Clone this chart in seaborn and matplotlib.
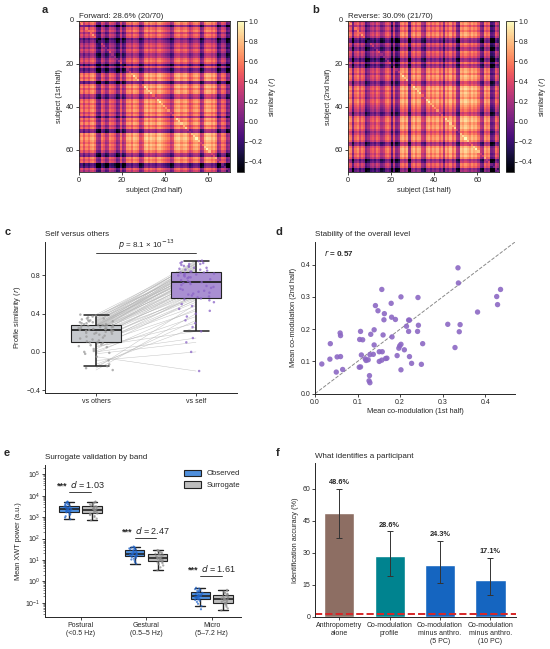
import numpy as np
import pandas as pd
import matplotlib
matplotlib.use("Agg")
import matplotlib.pyplot as plt
import seaborn as sns
from matplotlib.ticker import LogLocator, NullFormatter, FixedLocator, LogFormatterSciNotation

# ---------------- data ----------------
# a/b: per-subject similarity offsets read from the stripes of the matrices
row_level = [0.15, 0.10, -0.25, 0.05, 0.12, -0.05, 0.08, 0.02, -0.30, -0.20,
             -0.05, 0.00, -0.10, 0.05, -0.02, -0.18, -0.12, 0.05, 0.10, 0.00,
             -0.35, 0.02, -0.28, -0.20, 0.18, 0.22, 0.12, 0.20, -0.25, 0.15,
             0.22, 0.10, 0.20, 0.18, -0.08, -0.15, 0.15, 0.20, 0.08, 0.18,
             0.12, 0.20, 0.05, 0.15, -0.12, 0.18, 0.10, 0.22, 0.05, 0.15,
             -0.18, -0.22, 0.25, 0.20, 0.28, 0.22, 0.15, 0.25, 0.18, 0.22,
             0.10, -0.15, -0.20, 0.18, 0.10, 0.15, -0.35, -0.30, 0.05, -0.05]
col_level = [0.05, 0.10, -0.05, 0.08, 0.00, 0.12, 0.15, 0.05, -0.25, -0.30,
             0.02, -0.05, -0.22, -0.18, 0.05, 0.00, -0.08, -0.30, -0.25, 0.02,
             -0.22, -0.15, 0.12, 0.15, 0.05, 0.18, 0.15, 0.10, -0.12, -0.05,
             0.18, 0.22, 0.12, 0.20, 0.15, 0.08, 0.20, 0.22, 0.15, 0.10,
             0.05, 0.00, -0.15, -0.10, 0.15, 0.20, 0.22, 0.12, 0.18, 0.20,
             0.10, -0.02, 0.05, 0.15, 0.18, 0.10, -0.18, -0.12, 0.15, 0.22,
             0.20, 0.12, 0.18, 0.08, -0.22, -0.15, 0.05, 0.00, -0.30, -0.25]
base_level = 0.22
level_gain = 1.35
self_boost = 0.18
title_a = "Forward: 28.6% (20/70)"
title_b = "Reverse: 30.0% (21/70)"

# c: profile similarity per subject
c_vs_others = [-0.19, -0.17, -0.15, -0.13, -0.09, -0.05, -0.02, -0.01, 0.00, 0.01, 0.03, 0.05, 0.06, 0.07, 0.08, 0.09, 0.10,
               0.10, 0.11, 0.12, 0.13, 0.14, 0.15, 0.16, 0.17, 0.18, 0.19, 0.19, 0.20, 0.20, 0.21, 0.21, 0.22, 0.22,
               0.23, 0.23, 0.23, 0.24, 0.24, 0.24, 0.25, 0.25, 0.25, 0.26, 0.26, 0.26, 0.27, 0.27, 0.27, 0.28, 0.28,
               0.28, 0.28, 0.29, 0.29, 0.30, 0.30, 0.31, 0.31, 0.32, 0.32, 0.33, 0.33, 0.34, 0.35, 0.35, 0.36, 0.37,
               0.38, 0.39]
c_vs_self = [0.40, 0.50, 0.33, 0.26, 0.00, -0.20, 0.10, 0.45, 0.145, 0.37, 0.55, 0.30, 0.215, 0.60, 0.43, 0.52, 0.48,
             0.54, 0.62, 0.58, 0.71, 0.56, 0.66, 0.59, 0.80, 0.63, 0.57, 0.74, 0.68, 0.61, 0.85, 0.64, 0.73, 0.69,
             0.78, 0.65, 0.82, 0.70, 0.88, 0.67, 0.76, 0.90, 0.72, 0.81, 0.93, 0.75, 0.84, 0.77, 0.86, 0.73, 0.91,
             0.79, 0.83, 0.87, 0.80, 0.92, 0.78, 0.95, 0.82, 0.89, 0.84, 0.94, 0.81, 0.88, 0.93, 0.86, 0.955, 0.90,
             0.83, 0.92]
c_groups = ["vs others", "vs self"]

# d: mean co-modulation, both halves
d_first = [0.016, 0.035, 0.036, 0.050, 0.052, 0.060, 0.059, 0.060, 0.065, 0.104, 0.107, 0.107, 0.105, 0.112,
           0.109, 0.120, 0.125, 0.128, 0.127, 0.129, 0.129, 0.137, 0.131, 0.139, 0.139, 0.142, 0.148, 0.151,
           0.158, 0.151, 0.157, 0.157, 0.160, 0.163, 0.162, 0.166, 0.169, 0.179, 0.180, 0.181, 0.189, 0.193,
           0.197, 0.199, 0.202, 0.202, 0.202, 0.210, 0.215, 0.220, 0.222, 0.220, 0.222, 0.227, 0.241, 0.243,
           0.242, 0.250, 0.253, 0.312, 0.329, 0.336, 0.337, 0.339, 0.341, 0.382, 0.427, 0.429, 0.436, 0.118]
d_second = [0.092, 0.107, 0.155, 0.067, 0.114, 0.115, 0.188, 0.180, 0.075, 0.082, 0.083, 0.193, 0.168, 0.167,
            0.120, 0.103, 0.105, 0.056, 0.040, 0.034, 0.121, 0.122, 0.184, 0.198, 0.151, 0.273, 0.257, 0.130,
            0.130, 0.100, 0.104, 0.323, 0.182, 0.248, 0.229, 0.109, 0.110, 0.280, 0.237, 0.176, 0.230, 0.118,
            0.141, 0.148, 0.153, 0.300, 0.074, 0.136, 0.209, 0.228, 0.228, 0.193, 0.115, 0.094, 0.193, 0.212,
            0.298, 0.091, 0.155, 0.215, 0.143, 0.390, 0.343, 0.192, 0.214, 0.253, 0.301, 0.276, 0.323, 0.108]
d_r_text = "0.57"

# e: mean XWT power by band
e_bands = ["Postural\n(<0.5 Hz)", "Gestural\n(0.5\u20135 Hz)", "Micro\n(5\u20137.2 Hz)"]
e_conds = ["Observed", "Surrogate"]
post_obs = [800, 950, 1100, 1250, 1400, 1550, 1680, 1780, 1850, 1920, 2000, 2080, 2160, 2250, 2400,
            2500, 2600, 2700, 2800, 2900, 3050, 3350, 3500, 3700, 3900, 4100, 4400, 4700, 5000, 5300]
post_sur = [700, 850, 1000, 1120, 1250, 1350, 1430, 1490, 1540, 1620, 1720, 1820, 1920, 2020, 2150,
            2250, 2350, 2450, 2550, 2700, 2900, 3050, 3200, 3400, 3650, 3900, 4200, 4600, 5000, 5300]
gest_obs = [6.7, 8, 9.5, 10.5, 11.5, 12.5, 13.5, 14.3, 15, 15.6, 16.2, 16.8, 17.4, 18, 18.6,
            19.4, 20.2, 21, 22, 23.5, 25.5, 28.5, 30, 31.5, 33, 34.5, 36, 38, 40, 42]
gest_sur = [3.3, 4.5, 5.5, 6.3, 7, 7.6, 8.1, 8.6, 9, 9.5, 10, 10.5, 11, 11.5, 11.8,
            12.2, 12.8, 13.5, 14.3, 15.2, 16.3, 17.5, 18.5, 19.5, 20.5, 22, 23.5, 25.5, 27.5, 29]
micro_obs = [0.05, 0.07, 0.09, 0.11, 0.125, 0.135, 0.145, 0.152, 0.165, 0.172, 0.178, 0.184, 0.19, 0.195, 0.198,
             0.202, 0.21, 0.22, 0.23, 0.245, 0.26, 0.29, 0.31, 0.33, 0.35, 0.37, 0.40, 0.43, 0.46, 0.50]
micro_sur = [0.044, 0.055, 0.065, 0.075, 0.083, 0.09, 0.096, 0.099, 0.105, 0.112, 0.12, 0.128, 0.135, 0.142, 0.147,
             0.153, 0.16, 0.168, 0.177, 0.188, 0.2, 0.22, 0.235, 0.25, 0.265, 0.28, 0.30, 0.33, 0.36, 0.40]
e_effect = ["1.03", "2.47", "1.61"]
e_bracket_y = [1.5e4, 105, 1.7]
e_yticks = [1e-1, 1e0, 1e1, 1e2, 1e3, 1e4, 1e5]

# f: identification accuracy
f_labels = ["Anthropometry\nalone", "Co-modulation\nprofile",
            "Co-modulation\nminus anthro.\n(5 PC)", "Co-modulation\nminus anthro.\n(10 PC)"]
f_acc = [48.6, 28.6, 24.3, 17.1]
f_low = [37.1, 19.3, 15.7, 10.0]
f_high = [60.0, 40.0, 35.5, 27.7]
f_colors = ["#8d6e63", "#00838f", "#1565c0", "#1565c0"]
f_chance = 100 / 70

# ---------------- style ----------------
sns.set_theme(style="ticks")
plt.rcParams["font.family"] = ["Liberation Sans", "DejaVu Sans"]
plt.rcParams.update({
    "font.size": 5.5,
    "axes.titlesize": 5.8,
    "axes.labelsize": 5.3,
    "xtick.labelsize": 5,
    "ytick.labelsize": 5,
    "axes.linewidth": 0.7,
    "xtick.major.size": 2, "ytick.major.size": 2,
    "xtick.major.width": 0.6, "ytick.major.width": 0.6,
    "xtick.major.pad": 1.5, "ytick.major.pad": 1.5,
    "axes.labelpad": 2,
    "axes.titlepad": 3,
})

W, H = 550, 649
fig = plt.figure(figsize=(W / 100, H / 100), dpi=100)


def box(l, t, r, b):
    return [l / W, 1 - b / H, (r - l) / W, (b - t) / H]


def panel_letter(x, y, s):
    fig.text(x / W, 1 - y / H, s, fontsize=8, fontweight="bold", va="center", ha="left")


# ---------------- a / b heatmaps ----------------
sim = base_level + level_gain * np.add.outer(np.array(row_level), np.array(col_level))
sim[np.diag_indices(70)] += self_boost
sim = np.clip(sim, -0.5, 1.0)

for mat, title, ylab, xlab, pos, cpos in [
    (sim, title_a, "subject (1st half)", "subject (2nd half)", box(79, 21, 230, 172), box(237, 21, 244, 172)),
    (sim.T, title_b, "subject (2nd half)", "subject (1st half)", box(348, 21, 499, 172), box(506, 21, 514, 172)),
]:
    ax = fig.add_axes(pos)
    cax = fig.add_axes(cpos)
    sns.heatmap(mat, ax=ax, cbar_ax=cax, cmap="magma", vmin=-0.5, vmax=1.0,
                xticklabels=False, yticklabels=False)
    ax.set_xticks([0, 20, 40, 60])
    ax.set_xticklabels(["0", "20", "40", "60"], rotation=0)
    ax.set_yticks([0, 20, 40, 60])
    ax.set_yticklabels(["0", "20", "40", "60"], rotation=0, va="center")
    ax.tick_params(left=True, bottom=True, length=2, width=0.6, labelsize=5.3)
    for sp in ax.spines.values():
        sp.set_visible(True)
        sp.set_linewidth(0.6)
    ax.set_title(title, loc="left", fontsize=5.8, pad=2)
    ax.set_ylabel(ylab)
    ax.set_xlabel(xlab)
    cb = ax.collections[0].colorbar
    cb.set_ticks([-0.4, -0.2, 0.0, 0.2, 0.4, 0.6, 0.8, 1.0])
    cb.outline.set_linewidth(0.6)
    cb.ax.tick_params(labelsize=5, length=2, width=0.6, pad=1.5)
    cb.set_label("similarity ($r$)", fontsize=5.3, labelpad=3)

panel_letter(42, 10, "a")
panel_letter(312, 10, "b")

# ---------------- c self vs others ----------------
ax = fig.add_axes(box(45, 242, 237, 393))
df_c = pd.DataFrame({
    "group": [c_groups[0]] * len(c_vs_others) + [c_groups[1]] * len(c_vs_self),
    "sim": c_vs_others + c_vs_self,
})
for o, s in zip(c_vs_others, c_vs_self):
    ax.plot([0, 1], [o, s], color="#b5b5b5", lw=0.35, alpha=0.8, zorder=0)
sns.boxplot(data=df_c, x="group", y="sim", hue="group", palette=["#c6c9cd", "#a98fd2"],
            width=0.5, saturation=1, showfliers=False, linecolor="#222222", linewidth=0.8,
            medianprops={"linewidth": 1.3}, whiskerprops={"linewidth": 1.1},
            capprops={"linewidth": 1.1}, legend=False, ax=ax)
sns.stripplot(data=df_c, x="group", y="sim", hue="group", palette=["#9a9a9a", "#8a63c6"],
              size=1.8, jitter=0.18, alpha=0.75, legend=False, ax=ax, zorder=3)
ax.plot([0, 1], [1.035, 1.035], color="#222222", lw=0.6)
ax.text(0.5, 1.045, "$p$ = 8.1 \u00d7 10$^{-13}$", ha="center", va="bottom", fontsize=5.8)
ax.set_xlim(-0.51, 1.41)
ax.set_ylim(-0.43, 1.15)
ax.set_yticks([-0.4, 0.0, 0.4, 0.8])
ax.set_yticklabels(["\u22120.4", "0.0", "0.4", "0.8"])
ax.xaxis.label.set_visible(False)
ax.set_ylabel("Profile similarity ($r$)")
ax.set_title("Self versus others", loc="left", pad=4)
sns.despine(ax=ax)
panel_letter(5, 232, "c")

# ---------------- d stability ----------------
ax = fig.add_axes(box(315, 242, 515, 393.7))
sns.scatterplot(x=d_first, y=d_second, color="#8c68c4", s=15, edgecolor="none", alpha=0.9, ax=ax)
ax.axline((0, 0), slope=1, color="#8a8a8a", lw=0.7, ls="--", zorder=0)
ax.set_xlim(0, 0.47)
ax.set_ylim(0, 0.47)
ax.set_xticks([0.0, 0.1, 0.2, 0.3, 0.4])
ax.set_yticks([0.0, 0.1, 0.2, 0.3, 0.4])
ax.text(0.045, 0.93, "$r$ = " + d_r_text, transform=ax.transAxes, fontsize=5.8,
        fontweight="bold", va="center")
ax.set_xlabel("Mean co-modulation (1st half)")
ax.set_ylabel("Mean co-modulation (2nd half)")
ax.set_title("Stability of the overall level", loc="left", pad=4)
sns.despine(ax=ax)
panel_letter(276, 232, "d")

# ---------------- e surrogate validation ----------------
ax = fig.add_axes(box(45, 465, 241, 617.3))
groups_e = [(e_bands[0], post_obs, post_sur), (e_bands[1], gest_obs, gest_sur), (e_bands[2], micro_obs, micro_sur)]
rows = []
for band, obs, sur in groups_e:
    rows += [(band, e_conds[0], v) for v in obs]
    rows += [(band, e_conds[1], v) for v in sur]
df_e = pd.DataFrame(rows, columns=["band", "cond", "power"])
ax.set_yscale("log")
sns.boxplot(data=df_e, x="band", y="power", hue="cond", palette=["#4f8fdc", "#bdbdbd"],
            width=0.7, gap=0.15, saturation=1, showfliers=False, linecolor="#222222",
            linewidth=0.8, medianprops={"linewidth": 1.2}, whiskerprops={"linewidth": 1.0},
            capprops={"linewidth": 1.0}, ax=ax)
sns.stripplot(data=df_e, x="band", y="power", hue="cond", palette=["#1f63c9", "#8c8c8c"],
              dodge=True, size=1.6, jitter=0.12, alpha=0.7, legend=False, ax=ax, zorder=3)
for i, (eff, yb) in enumerate(zip(e_effect, e_bracket_y)):
    ax.plot([i - 0.175, i + 0.15], [yb, yb], color="#222222", lw=0.6)
    ax.text(i + 0.1, yb * 1.25, "$d$ = " + eff, ha="center", va="bottom", fontsize=6.5)
    ax.text(i - 0.29, yb * 1.9, "***", ha="center", va="center", fontsize=6.5, fontweight="bold")
ax.set_ylim(0.021, 2.7e5)
ax.yaxis.set_major_locator(FixedLocator(e_yticks))
ax.yaxis.set_major_formatter(LogFormatterSciNotation(base=10))
ax.yaxis.set_minor_locator(FixedLocator(
    [m * d for d in [1e-2, 1e-1, 1e0, 1e1, 1e2, 1e3, 1e4, 1e5] for m in range(2, 10)
     if 0.021 <= m * d <= 2.7e5]))
ax.yaxis.set_minor_formatter(NullFormatter())
ax.tick_params(axis="y", which="minor", length=1.2, width=0.4)
ax.set_xlim(-0.545, 2.447)
ax.xaxis.label.set_visible(False)
ax.set_ylabel("Mean XWT power (a.u.)")
ax.set_title("Surrogate validation by band", loc="left", pad=4)
leg = ax.legend(loc="upper right", frameon=False, fontsize=5.5, handlelength=2.2,
                handleheight=0.9, borderaxespad=0.2, bbox_to_anchor=(1.02, 1.0))
sns.despine(ax=ax)
panel_letter(4, 453, "e")

# ---------------- f what identifies ----------------
ax = fig.add_axes(box(315, 463.3, 515.7, 616.7))
sns.barplot(x=f_labels, y=f_acc, hue=f_labels, palette=f_colors, width=0.6, saturation=1,
            legend=False, ax=ax)
acc = np.array(f_acc)
ax.errorbar(range(len(f_acc)), acc, yerr=[acc - np.array(f_low), np.array(f_high) - acc],
            fmt="none", ecolor="#333333", elinewidth=0.7, capsize=2.2, capthick=0.7)
for i, (a, hi) in enumerate(zip(f_acc, f_high)):
    ax.text(i, hi + 1.3, f"{a}%", ha="center", va="bottom", fontsize=5.3, fontweight="bold")
ax.axhline(f_chance, color="#d62728", ls="--", lw=1.4)
ax.set_ylim(0, 72)
ax.set_yticks([0, 15, 30, 45, 60])
ax.set_xlim(-0.48, 3.5)
ax.xaxis.label.set_visible(False)
ax.set_ylabel("Identification accuracy (%)")
ax.set_title("What identifies a participant", loc="left", pad=4)
sns.despine(ax=ax)
panel_letter(276, 453, "f")

fig.savefig("out.png", dpi=100)
